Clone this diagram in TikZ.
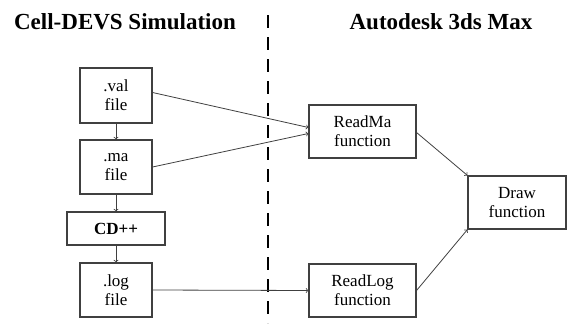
\documentclass[tikz,border=0pt]{standalone}
\usepackage{fontspec}
\setmainfont{Liberation Serif}
\usepackage{tikz}

\begin{document}
\begin{tikzpicture}[x=1pt,y=-1pt,
    box/.style={draw=black!75,line width=1.1pt,align=center,inner sep=0pt,
        font=\fontsize{17}{19}\selectfont},
    titolo/.style={anchor=base,font=\fontsize{23}{26}\selectfont\bfseries},
    freccia/.style={->,draw=black!75,line width=0.8pt}]

            \useasboundingbox (0,0) rectangle (568,324);

            % Titoli
            \node[titolo] (tsim) at (125,29) {Cell-DEVS Simulation};
            \node[titolo] (tmax) at (441,29) {Autodesk 3ds Max};

            % Separatore
            \draw[line width=2.6pt,dash pattern=on 13pt off 9pt] (268,15) -- (268,323);

            % Blocchi a sinistra
            \node[box,minimum width=72pt,minimum height=55pt] (val) at (116,95.5) {.val\\file};
            \node[box,minimum width=72pt,minimum height=54pt] (ma) at (116,167) {.ma\\file};
            \node[box,minimum width=98pt,minimum height=33pt] (cdpp) at (116,228.5) {\textbf{CD++}};
            \node[box,minimum width=72pt,minimum height=54pt] (log) at (116,290) {.log\\file};

            % Blocchi a destra
            \node[box,minimum width=107pt,minimum height=53pt] (readma) at (362.5,131.5) {ReadMa\\function};
            \node[box,minimum width=107pt,minimum height=53pt] (readlog) at (362.5,290.5) {ReadLog\\function};
            \node[box,minimum width=98pt,minimum height=53pt] (drawf) at (517,202.5) {Draw\\function};

            % Frecce
            \draw[freccia] (val) -- (ma);
            \draw[freccia] (ma) -- (cdpp);
            \draw[freccia] (cdpp) -- (log);
            \draw[freccia] ([yshift=3pt]val.east) -- ([yshift=4pt]readma.west);
            \draw[freccia] (ma.east) -- ([yshift=-2pt]readma.west);
            \draw[freccia] (log.east) -- (readlog.west);
            \draw[freccia] ([yshift=-1pt]readma.east) -- (drawf.north west);
            \draw[freccia] (readlog.east) -- (drawf.south west);

        \end{tikzpicture}
\end{document}
